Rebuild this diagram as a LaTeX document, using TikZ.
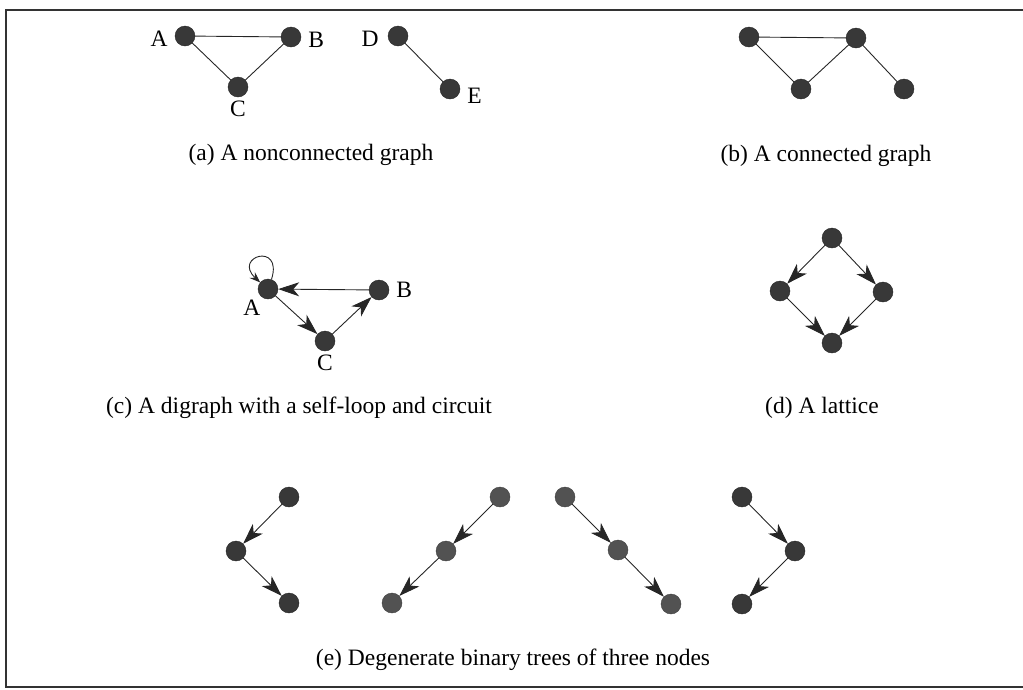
\documentclass[tikz,border=0pt]{standalone}
\usepackage{fontspec}
\setmainfont{Liberation Serif}
\usetikzlibrary{arrows.meta}

\begin{document}
\begin{tikzpicture}[x=1pt, y=-1pt,
    vtx/.style={circle, draw=black!85, fill=black!78, minimum size=20pt, inner sep=0pt},
    gvtx/.style={vtx, draw=black!75, fill=black!68},
    edg/.style={line width=0.9pt, black!85},
    arr/.style={edg, -{Stealth[length=21pt, width=14pt, inset=6pt]}},
    caption/.style={font=\rmfamily\fontsize{23.5}{28}\selectfont, inner sep=0pt},
    every label/.style={font=\rmfamily\fontsize{23.5}{28}\selectfont, inner sep=0pt},
    label distance=7pt
]
\useasboundingbox (0,0) rectangle (1023,689);
\draw[line width=1.2pt, black!80] (1023,10) -- (6,10) -- (6,687) -- (1023,687);

% (a) nonconnected graph
\node[vtx, label={[yshift=-3pt]left:A}] (aa) at (185,36) {};
\node[vtx, label={[yshift=-3pt]right:B}] (ab) at (291,37) {};
\node[vtx, label={[label distance=4pt]below:C}] (ac) at (238,87) {};
\node[vtx, label={[yshift=-3pt, label distance=9pt]left:D}] (ad) at (398,36) {};
\node[vtx, label={[yshift=-7pt]right:E}] (ae) at (450,89) {};
\draw[edg] (aa) -- (ab);
\draw[edg] (aa) -- (ac);
\draw[edg] (ac) -- (ab);
\draw[edg] (ad) -- (ae);
\node[caption] (capa) at (311,155) {(a) A nonconnected graph};

% (b) connected graph
\node[vtx] (b1) at (749,37) {};
\node[vtx] (b2) at (856,38) {};
\node[vtx] (b3) at (801,89) {};
\node[vtx] (b4) at (904,89) {};
\draw[edg] (b1) -- (b2);
\draw[edg] (b1) -- (b3);
\draw[edg] (b3) -- (b2);
\draw[edg] (b2) -- (b4);
\node[caption] (capb) at (826,156) {(b) A connected graph};

% (c) digraph with self-loop
\node[vtx, label={[label distance=3pt]-125:A}] (ca) at (268,289) {};
\node[vtx, label={right:B}] (cb) at (379,290) {};
\node[vtx, label={[label distance=4pt]below:C}] (cc) at (325,341) {};
\draw[arr] (cb) -- (ca);
\draw[arr] (ca) -- (cc);
\draw[arr] (cc) -- (cb);
\draw[edg, -{Stealth[length=11pt, width=8pt, inset=4pt]}]
  (ca.70) .. controls +(12,-38) and +(-28,-26) .. (ca.140);
\node[caption] (capc) at (299,408) {(c) A digraph with a self-loop and circuit};

% (d) lattice
\node[vtx] (dt) at (832,238) {};
\node[vtx] (dl) at (780,291) {};
\node[vtx] (dr) at (883,292) {};
\node[vtx] (db) at (832,343) {};
\draw[arr] (dt) -- (dl);
\draw[arr] (dt) -- (dr);
\draw[arr] (dl) -- (db);
\draw[arr] (dr) -- (db);
\node[caption] (capd) at (822,408) {(d) A lattice};

% (e) degenerate binary trees
\node[vtx] (e1t) at (289,497) {};
\node[vtx] (e1m) at (236,551) {};
\node[vtx] (e1b) at (289,603) {};
\node[gvtx] (e2t) at (500,497) {};
\node[gvtx] (e2m) at (446,551) {};
\node[gvtx] (e2b) at (392,603) {};
\node[gvtx] (e3t) at (565,497) {};
\node[gvtx] (e3m) at (618,550) {};
\node[gvtx] (e3b) at (671,604) {};
\node[vtx] (e4t) at (742,497) {};
\node[vtx] (e4m) at (795,551) {};
\node[vtx] (e4b) at (742,604) {};
\draw[arr] (e1t) -- (e1m);
\draw[arr] (e1m) -- (e1b);
\draw[arr] (e2t) -- (e2m);
\draw[arr] (e2m) -- (e2b);
\draw[arr] (e3t) -- (e3m);
\draw[arr] (e3m) -- (e3b);
\draw[arr] (e4t) -- (e4m);
\draw[arr] (e4m) -- (e4b);
\node[caption] (cape) at (513,660) {(e) Degenerate binary trees of three nodes};
\end{tikzpicture}
\end{document}
